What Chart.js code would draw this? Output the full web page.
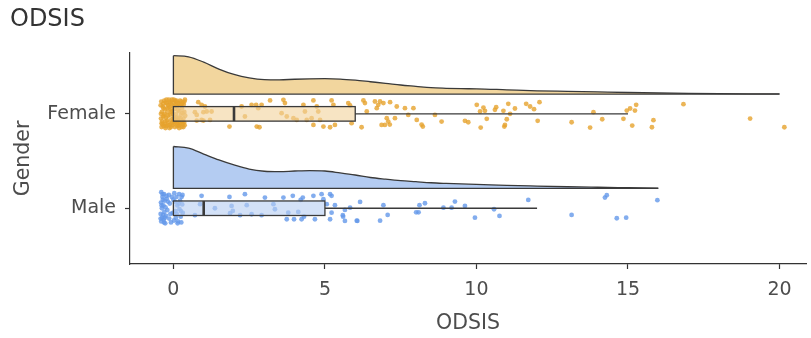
<!DOCTYPE html>
<html>
<head>
<meta charset="utf-8">
<script src="https://cdn.jsdelivr.net/npm/chart.js@4.4.1/dist/chart.umd.min.js"></script>
<style>
  html, body { margin: 0; padding: 0; background: #fff; }
  #wrap { width: 811px; height: 338px; }
</style>
</head>
<body>
<div id="wrap"><canvas id="odsisChart"></canvas></div>
<script>
// Raincloud plot of ODSIS scores by gender

const groups = ['Male', 'Female'];   // y positions 1, 2
const xTicks = [0, 5, 10, 15, 20];

// half-violin densities (relative height) on a score grid
const femaleDensX = [0, 0.5, 1, 1.5, 2, 2.5, 3, 3.5, 4, 4.5, 5, 5.5, 6, 6.5, 7, 7.5, 8, 8.5, 9, 9.5, 10, 11, 12, 13, 14, 15, 16, 17, 18, 19, 20];
const femaleDensY = [1.00, 0.97, 0.83, 0.65, 0.51, 0.42, 0.375, 0.37, 0.385, 0.395, 0.40, 0.39, 0.36, 0.32, 0.28, 0.235, 0.20, 0.165, 0.15, 0.14, 0.135, 0.11, 0.085, 0.07, 0.055, 0.04, 0.027, 0.017, 0.01, 0.006, 0.004];
const maleDensX = [0, 0.5, 1, 1.5, 2, 2.5, 3, 3.5, 4, 4.5, 5, 5.5, 6, 6.5, 7, 7.5, 8, 8.5, 9, 9.5, 10, 11, 12, 13, 14, 15, 16];
const maleDensY = [1.00, 0.96, 0.82, 0.68, 0.56, 0.46, 0.41, 0.40, 0.415, 0.425, 0.415, 0.37, 0.32, 0.26, 0.22, 0.185, 0.16, 0.135, 0.12, 0.108, 0.098, 0.072, 0.055, 0.04, 0.028, 0.017, 0.006];

// box stats: lower whisker, q1, median, q3, upper whisker
const femaleBox = [0, 0, 2, 6, 15];
const maleBox = [0, 0, 1, 5, 12];

// individual scores as [score, vertical jitter]
const femalePoints = [
  [-0.40,0.13],[-0.35,0.08],[-0.38,0.02],[-0.41,-0.05],[-0.36,-0.11],[-0.39,-0.14],[-0.30,0.14],[-0.28,0.05],[-0.31,-0.02],[-0.27,-0.08],
  [-0.32,-0.13],[-0.22,0.11],[-0.20,0.02],[-0.24,-0.04],[-0.19,-0.12],[-0.23,0.15],[-0.14,0.07],[-0.12,-0.01],[-0.16,-0.09],[-0.11,0.13],
  [-0.13,-0.15],[-0.06,0.10],[-0.04,0.03],[-0.07,-0.06],[-0.03,-0.12],[-0.05,0.15],[0.02,0.12],[0.04,0.05],[0.01,-0.03],[0.03,-0.10],
  [0.05,-0.14],[0.10,0.14],[0.12,0.08],[0.09,0.00],[0.11,-0.07],[0.13,-0.13],[0.18,0.11],[0.20,0.03],[0.17,-0.04],[0.21,-0.10],
  [0.19,-0.15],[0.26,0.13],[0.28,0.06],[0.25,-0.01],[0.29,-0.08],[0.27,-0.14],[0.34,0.10],[0.36,0.02],[0.33,-0.05],[0.37,-0.12],
  [0.38,0.15],[-0.33,0.11],[-0.26,-0.15],[-0.09,0.05],[0.07,-0.09],[0.15,0.04],[0.31,-0.11],[-0.17,0.09],[0.00,0.08],[-0.37,-0.08],
  [0.23,0.09],[-0.01,-0.08],[0.32,0.12],[-0.21,-0.07],[0.06,0.14],[-0.29,0.00],[0.14,-0.11],[0.39,-0.02],[-0.08,-0.14],[0.24,-0.05],
  [-0.42,0.09],[-0.34,-0.03],[-0.25,0.12],[-0.18,-0.02],[-0.10,0.11],[-0.02,0.00],[0.08,0.10],[0.16,-0.07],[0.22,0.14],[0.30,0.01],
  [0.35,-0.09],[-0.39,-0.10],[-0.28,-0.11],[-0.15,0.15],[-0.06,-0.10],[0.04,-0.05],[0.12,0.12],[0.27,0.10],[0.36,0.13],[-0.33,0.06],
  [-0.20,0.06],[-0.12,-0.12],[0.01,0.15],[0.18,-0.12],[0.33,-0.14],[-0.41,0.00],[-0.24,-0.13],[0.10,-0.04],[0.26,-0.11],[-0.08,0.02],
  [0.82,0.124],[0.93,0.096],[1.10,0.025],[1.26,0.025],[0.77,-0.011],[0.93,-0.064],[1.21,-0.064],[1.04,0.078],[0.71,0.018],[0.99,0.018],
  [0.77,-0.071],[0.99,-0.071],[1.85,-0.135],[2.25,0.078],[2.36,-0.028],[2.58,0.096],[2.73,0.096],[2.91,0.096],[2.80,0.06],[2.75,-0.135],
  [2.84,-0.142],[3.19,0.142],[3.63,0.149],[3.68,0.114],[3.57,0.007],[3.74,-0.028],[3.96,-0.046],[4.29,0.096],[4.34,0.025],[4.07,-0.064],
  [4.40,-0.064],[4.56,-0.046],[4.62,0.142],[4.73,0.078],[4.78,0.025],[4.84,-0.064],[4.95,-0.135],[4.62,-0.117],[5.22,0.142],[5.28,0.096],
  [5.33,-0.117],[5.17,-0.142],[5.77,0.114],[5.83,0.089],[5.88,-0.099],[6.27,0.142],[6.32,0.114],[6.38,0.025],[6.21,-0.142],[6.65,0.131],
  [6.76,0.096],[6.82,0.131],[6.93,0.114],[6.71,0.06],[7.04,-0.046],[7.09,-0.082],[6.98,-0.117],[7.31,-0.046],[7.37,0.078],[7.64,0.06],
  [7.92,0.06],[7.75,-0.011],[8.03,-0.064],[8.23,-0.135],[8.63,-0.011],[8.85,-0.082],[7.15,0.124],[6.87,-0.117],[7.14,-0.114],[8.19,-0.114],
  [10.01,0.096],[10.23,0.067],[10.28,0.032],[10.12,0.025],[10.34,-0.053],[9.62,-0.074],[9.73,-0.089],[10.14,-0.145],[10.61,0.043],[10.65,0.071],
  [10.89,0.032],[11.05,0.106],[11.11,0.0],[11.27,0.057],[11.00,-0.057],[10.94,-0.117],[10.92,-0.135],[11.64,0.106],[11.77,0.078],[11.90,0.05],
  [12.08,0.124],[12.02,-0.074],[13.14,-0.089],[13.75,-0.145],[13.86,0.018],[14.15,-0.057],[14.85,-0.053],[14.96,0.035],[15.07,0.057],[15.23,0.035],
  [15.27,0.096],[15.14,-0.124],[15.79,-0.142],[15.84,-0.067],[16.83,0.103],[19.03,-0.05],[20.16,-0.142]
];
const malePoints = [
  [-0.40,0.17],[-0.36,0.12],[-0.41,0.06],[-0.38,0.00],[-0.42,-0.06],[-0.37,-0.10],[-0.40,-0.14],[-0.31,0.15],[-0.29,0.08],[-0.33,0.03],
  [-0.30,-0.04],[-0.32,-0.12],[-0.27,-0.16],[-0.22,0.10],[-0.20,-0.02],[-0.24,-0.08],[-0.15,0.14],[-0.12,0.05],[-0.14,-0.11],[-0.08,-0.15],
  [-0.05,0.12],[-0.02,-0.05],[0.03,0.16],[0.05,0.07],[0.02,-0.13],[0.10,0.12],[0.13,0.03],[0.11,-0.06],[0.15,-0.14],[0.19,0.15],
  [0.22,0.08],[0.20,-0.01],[0.24,-0.09],[0.27,0.12],[0.29,0.04],[0.31,-0.05],[0.26,-0.15],[-0.35,0.09],[-0.26,0.01],[0.07,-0.03],
  [-0.39,0.03],[-0.34,-0.07],[-0.36,0.15],[-0.28,-0.10],[-0.18,0.07],[-0.10,-0.06],[0.00,0.09],[0.08,-0.10],[0.17,0.05],[0.25,-0.03],
  [0.30,0.14],[-0.42,-0.11],[-0.23,0.13],[0.14,-0.16],[-0.31,-0.15],
  [0.93,0.131],[0.88,0.043],[0.71,-0.074],[1.37,0.0],[1.85,0.12],[1.92,0.024],[1.96,-0.029],[1.87,-0.053],[2.20,-0.074],[2.36,0.149],
  [2.42,0.032],[2.58,-0.064],[2.91,-0.074],[3.02,0.113],[3.30,0.043],[3.35,-0.011],[3.63,0.113],[3.94,0.131],[3.79,-0.047],[3.74,-0.117],
  [3.98,-0.117],[4.12,-0.039],[4.20,0.088],[4.27,0.113],[4.23,-0.117],[4.31,-0.089],[4.62,0.131],[4.67,-0.117],[4.89,0.149],[4.95,0.096],
  [5.06,0.043],[5.17,0.149],[5.22,0.131],[5.22,-0.047],[5.17,-0.117],[5.33,0.032],[5.59,-0.074],[5.66,-0.135],[5.83,0.006],[6.07,-0.135],
  [6.16,0.067],[5.66,-0.018],[5.60,-0.089],[6.05,-0.132],[6.82,-0.132],[6.93,0.032],[7.07,-0.071],[8.01,-0.043],[8.09,-0.043],[8.12,0.032],
  [8.30,0.053],[8.91,0.006],[9.18,0.006],[9.29,0.07],[9.62,0.024],[9.95,-0.1],[10.58,-0.011],[10.76,-0.082],[11.71,0.088],[13.14,-0.071],
  [14.24,0.113],[14.30,0.138],[14.63,-0.106],[14.94,-0.1],[15.97,0.085]
];

// geometry in y-axis units
const CLOUD_OFFSET = 0.21;
const BOX_HALF = 0.077;
const OUTLINE = '#3a3a3a';

const series = [
  { name: 'Female', pos: 2, densX: femaleDensX, densY: femaleDensY, height: 0.407, box: femaleBox, points: femalePoints,
    cloud: '#F2D69E', boxFill: 'rgba(242,212,158,0.62)', dot: 'rgba(230,163,45,0.8)' },
  { name: 'Male', pos: 1, densX: maleDensX, densY: maleDensY, height: 0.444, box: maleBox, points: malePoints,
    cloud: '#B4CCF2', boxFill: 'rgba(184,206,242,0.62)', dot: 'rgba(100,152,234,0.8)' }
];

const datasets = [];
series.forEach(s => {
  const base = s.pos + CLOUD_OFFSET;
  const last = s.densX.length - 1;
  // density curve, filled down to its baseline
  datasets.push({
    type: 'line',
    data: s.densX.map((v, i) => ({ x: v, y: base + s.densY[i] * s.height })),
    fill: { value: base },
    backgroundColor: s.cloud,
    borderColor: OUTLINE,
    borderWidth: 1.3,
    pointRadius: 0,
    cubicInterpolationMode: 'monotone',
    order: 3
  });
  // baseline and left edge of the cloud
  datasets.push({
    type: 'line',
    data: [
      { x: s.densX[last], y: base },
      { x: s.densX[0], y: base },
      { x: s.densX[0], y: base + s.densY[0] * s.height }
    ],
    fill: false,
    borderColor: OUTLINE,
    borderWidth: 1.3,
    pointRadius: 0,
    tension: 0,
    order: 2
  });
  // rain
  datasets.push({
    type: 'scatter',
    data: s.points.map(p => ({ x: p[0], y: s.pos + p[1] })),
    backgroundColor: s.dot,
    borderWidth: 0,
    pointRadius: 2.4,
    order: 1
  });
});

// boxplots drawn over the rain
const boxPlugin = {
  id: 'boxes',
  afterDatasetsDraw(chart) {
    const { ctx, scales: { x, y } } = chart;
    ctx.save();
    series.forEach(s => {
      const [lo, q1, med, q3, hi] = s.box;
      const yc = y.getPixelForValue(s.pos);
      const yt = y.getPixelForValue(s.pos + BOX_HALF);
      const yb = y.getPixelForValue(s.pos - BOX_HALF);
      const x1 = x.getPixelForValue(q1);
      const x3 = x.getPixelForValue(q3);
      ctx.fillStyle = s.boxFill;
      ctx.fillRect(x1, yt, x3 - x1, yb - yt);
      ctx.strokeStyle = OUTLINE;
      ctx.lineWidth = 1.3;
      ctx.strokeRect(x1, yt, x3 - x1, yb - yt);
      ctx.beginPath();
      ctx.moveTo(x3, yc);
      ctx.lineTo(x.getPixelForValue(hi), yc);
      ctx.moveTo(x.getPixelForValue(lo), yc);
      ctx.lineTo(x1, yc);
      ctx.stroke();
      const xm = x.getPixelForValue(med);
      ctx.lineWidth = 2.6;
      ctx.beginPath();
      ctx.moveTo(xm, yt);
      ctx.lineTo(xm, yb);
      ctx.stroke();
    });
    ctx.restore();
  }
};

const FONT = 'DejaVu Sans';

new Chart(document.getElementById('odsisChart'), {
  type: 'line',
  data: { datasets },
  plugins: [boxPlugin],
  options: {
    responsive: true,
    maintainAspectRatio: false,
    animation: false,
    layout: { padding: { left: 10, right: 5, top: 0, bottom: 0 } },
    plugins: {
      legend: { display: false },
      tooltip: { enabled: false },
      title: {
        display: true,
        text: 'ODSIS',
        align: 'start',
        color: '#333',
        font: { family: FONT, size: 24, weight: 'normal' },
        padding: { top: 5, bottom: 19 }
      }
    },
    scales: {
      x: {
        type: 'linear',
        min: -1.432,
        max: 20.874,
        afterBuildTicks: scale => { scale.ticks = xTicks.map(v => ({ value: v })); },
        afterFit: scale => { scale.height = 74; },
        ticks: { color: '#4d4d4d', font: { family: FONT, size: 19 }, padding: 10 },
        grid: { drawOnChartArea: false, color: '#333', tickLength: 5, tickWidth: 1.2 },
        border: { color: '#333', width: 1.2 },
        title: {
          display: true, text: 'ODSIS', color: '#4d4d4d',
          font: { family: FONT, size: 20.5 }, padding: { top: 0, bottom: 2 }
        }
      },
      y: {
        type: 'linear',
        min: 0.409,
        max: 2.647,
        afterBuildTicks: scale => { scale.ticks = groups.map((g, i) => ({ value: i + 1 })); },
        afterFit: scale => { scale.width = 120; },
        ticks: {
          color: '#4d4d4d', font: { family: FONT, size: 19 }, padding: 9,
          callback: v => groups[v - 1]
        },
        grid: { drawOnChartArea: false, color: '#333', tickLength: 5, tickWidth: 1.2 },
        border: { color: '#333', width: 1.2 },
        title: {
          display: true, text: 'Gender', color: '#4d4d4d',
          font: { family: FONT, size: 20.5 }, padding: { top: 1, bottom: 0 }
        }
      }
    }
  }
});
</script>
</body>
</html>
